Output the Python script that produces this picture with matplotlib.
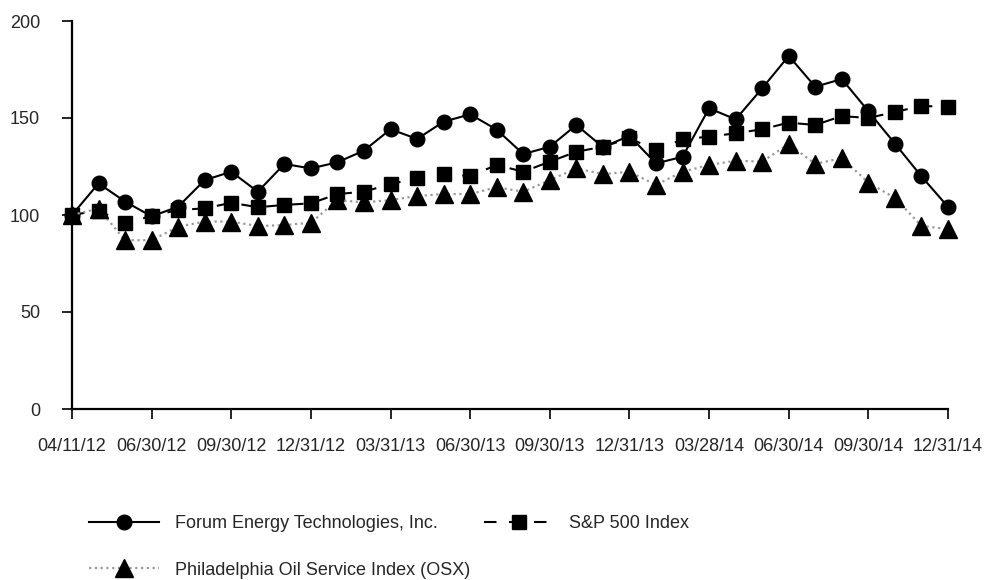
import matplotlib
matplotlib.use("Agg")
import matplotlib.pyplot as plt

plt.rcParams['font.family'] = ['Liberation Sans', 'DejaVu Sans']

tick_labels = ["04/11/12", "06/30/12", "09/30/12", "12/31/12", "03/31/13", "06/30/13",
               "09/30/13", "12/31/13", "03/28/14", "06/30/14", "09/30/14", "12/31/14"]

forum = [100, 116.3, 106.9, 99.3, 104.3, 118, 122.3, 112, 126.3, 124, 127.2, 133.2,
         144.2, 139.2, 148.1, 151.9, 144, 131.4, 135.2, 146.4, 135, 140.8, 126.6, 130,
         155, 149.3, 165.3, 182, 166.1, 170.1, 153.5, 136.8, 119.9, 104.2]
sp500 = [100, 102.3, 95.8, 99.5, 102.6, 103.4, 106.3, 104, 105.2, 106, 110.8, 112,
         116, 118.9, 121.1, 120.1, 125.8, 122.3, 127.5, 132.6, 135.2, 139.5, 133.5, 139,
         140.4, 142.1, 144.2, 147.6, 146.4, 151, 150, 153.1, 156.2, 155.8]
osx = [100, 103.3, 87, 87, 94, 96.6, 96.6, 94.3, 94.8, 96, 107.7, 106.5,
       107.7, 109.8, 110.8, 110.8, 114.3, 112, 118, 124, 121.1, 122.3, 115.5, 122.3,
       125.8, 128, 127.5, 136.6, 126.3, 129.4, 116.7, 108.8, 94.4, 92.7]

labels = ["Forum Energy Technologies, Inc.", "S&P 500 Index",
          "Philadelphia Oil Service Index (OSX)"]

x = list(range(len(forum)))
tick_pos = list(range(0, len(forum), 3))

text_color = '#262626'
fs = 13

fig = plt.figure(figsize=(9.85, 5.8), dpi=100)
ax = fig.add_axes([72/985, 1-409/580, (948-72)/985, (409-21)/580])

l_forum, = ax.plot(x, forum, color='black', lw=1.5, marker='o', markersize=10.5,
                   clip_on=False, zorder=3, label=labels[0])
l_sp, = ax.plot(x, sp500, color='black', lw=1.5, linestyle=(0, (6, 6)), marker='s',
                markersize=10, clip_on=False, zorder=4, label=labels[1])
l_osx, = ax.plot(x, osx, color='#9a9a9a', lw=1.6, linestyle=(0, (1, 1.6)), marker='^',
                 markersize=13.5, markerfacecolor='black', markeredgecolor='black',
                 clip_on=False, zorder=5, label=labels[2])

ax.set_xlim(0, len(forum) - 1)
ax.set_ylim(0, 200)
ax.set_yticks([0, 50, 100, 150, 200])
ax.set_xticks(tick_pos)
ax.set_xticklabels(tick_labels)

for s in ['top', 'right']:
    ax.spines[s].set_visible(False)
for s in ['left', 'bottom']:
    ax.spines[s].set_linewidth(1.6)
    ax.spines[s].set_color('black')

ax.tick_params(axis='y', direction='out', length=7, width=1.2, pad=16,
               labelsize=fs, labelcolor=text_color)
ax.tick_params(axis='x', direction='out', length=7, width=1.2, pad=14,
               labelsize=fs, labelcolor=text_color)

leg = fig.legend(handles=[l_forum, l_osx, l_sp], labels=[labels[0], labels[2], labels[1]],
                 ncol=2, loc='upper left', bbox_to_anchor=(89/985, 1-515/580),
                 frameon=False, borderpad=0, borderaxespad=0, handlelength=3.9,
                 handletextpad=0.85, columnspacing=0.75, labelspacing=1.65,
                 fontsize=fs, labelcolor=text_color)

fig.savefig("out.png", dpi=100)
